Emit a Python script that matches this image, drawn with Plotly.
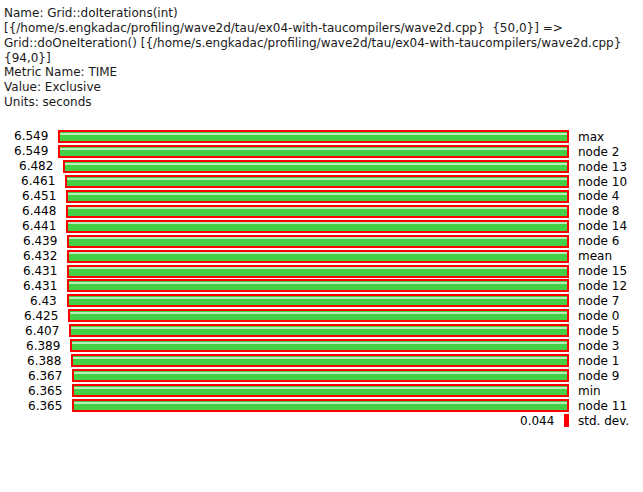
import plotly.graph_objects as go

names = ["max", "node 2", "node 13", "node 10", "node 4", "node 8", "node 14", "node 6",
         "mean", "node 15", "node 12", "node 7", "node 0", "node 5", "node 3", "node 1",
         "node 9", "min", "node 11"]
values = [6.549, 6.549, 6.482, 6.461, 6.451, 6.448, 6.441, 6.439, 6.432, 6.431, 6.431,
          6.43, 6.425, 6.407, 6.389, 6.388, 6.367, 6.365, 6.365]
std_name = "std. dev."
std_value = 0.044

header_lines = [
    "Name: Grid::doIterations(int)",
    "[{/home/s.engkadac/profiling/wave2d/tau/ex04-with-taucompilers/wave2d.cpp}  {50,0}] =>",
    "Grid::doOneIteration() [{/home/s.engkadac/profiling/wave2d/tau/ex04-with-taucompilers/wave2d.cpp}",
    "{94,0}]",
    "Metric Name: TIME",
    "Value: Exclusive",
    "Units: seconds",
]

W, H = 643, 492
scale = 77.72          # px per second
plot_right = 573
TOP, BOT = 128.5, 428.5
c = 5 / scale
R = 568 / scale

cats = names + [std_name]
all_vals = values + [std_value]

GREEN = "#44d044"
RED = "#ff0000"
STRIPE = "#b8ecb8"

fig = go.Figure()
fig.add_trace(go.Bar(
    y=cats, x=all_vals, orientation="h",
    width=11 / 15,
    marker=dict(color=[GREEN] * len(values) + [RED], line=dict(color=RED, width=2)),
    hoverinfo="skip", showlegend=False,
))
px1 = 1 / scale
fig.add_trace(go.Bar(
    y=names, x=[v - 2 * px1 for v in values], base=[px1] * len(values), orientation="h",
    width=1.5 / 15, offset=-(2.5 / 15) - 0.75 / 15,
    marker=dict(color=STRIPE, line=dict(width=0)),
    hoverinfo="skip", showlegend=False,
))

annotations = []
for n, v in zip(cats, all_vals):
    annotations.append(dict(
        x=v, y=n, xref="x", yref="y", text=f"{v:g}", showarrow=False,
        xanchor="right", yanchor="middle", xshift=-9,
        font=dict(family="DejaVu Sans", size=12, color="black"),
    ))

line_y = [12, 27, 42, 57, 71.5, 86.5, 101]
for t, yp in zip(header_lines, line_y):
    annotations.append(dict(
        x=2 / plot_right, y=(BOT - yp) / (BOT - TOP), xref="paper", yref="paper",
        text=t, showarrow=False,
        xanchor="left", yanchor="middle",
        font=dict(family="DejaVu Sans", size=12, color="#1a1a1a"),
    ))

fig.update_layout(
    width=W, height=H,
    margin=dict(l=0, r=W - plot_right, t=TOP, b=H - BOT, pad=0),
    paper_bgcolor="white", plot_bgcolor="white",
    barmode="overlay", bargap=0,
    xaxis=dict(range=[R, -c], visible=False, fixedrange=True),
    yaxis=dict(categoryorder="array", categoryarray=cats,
               side="right", showgrid=False, zeroline=False, showline=False,
               ticks="", ticklabelstandoff=4,
               tickfont=dict(family="DejaVu Sans", size=12, color="black")),
    annotations=annotations,
)
fig.update_yaxes(range=[len(cats) - 0.5, -0.5], autorange=False)

fig.write_html("out.html")
